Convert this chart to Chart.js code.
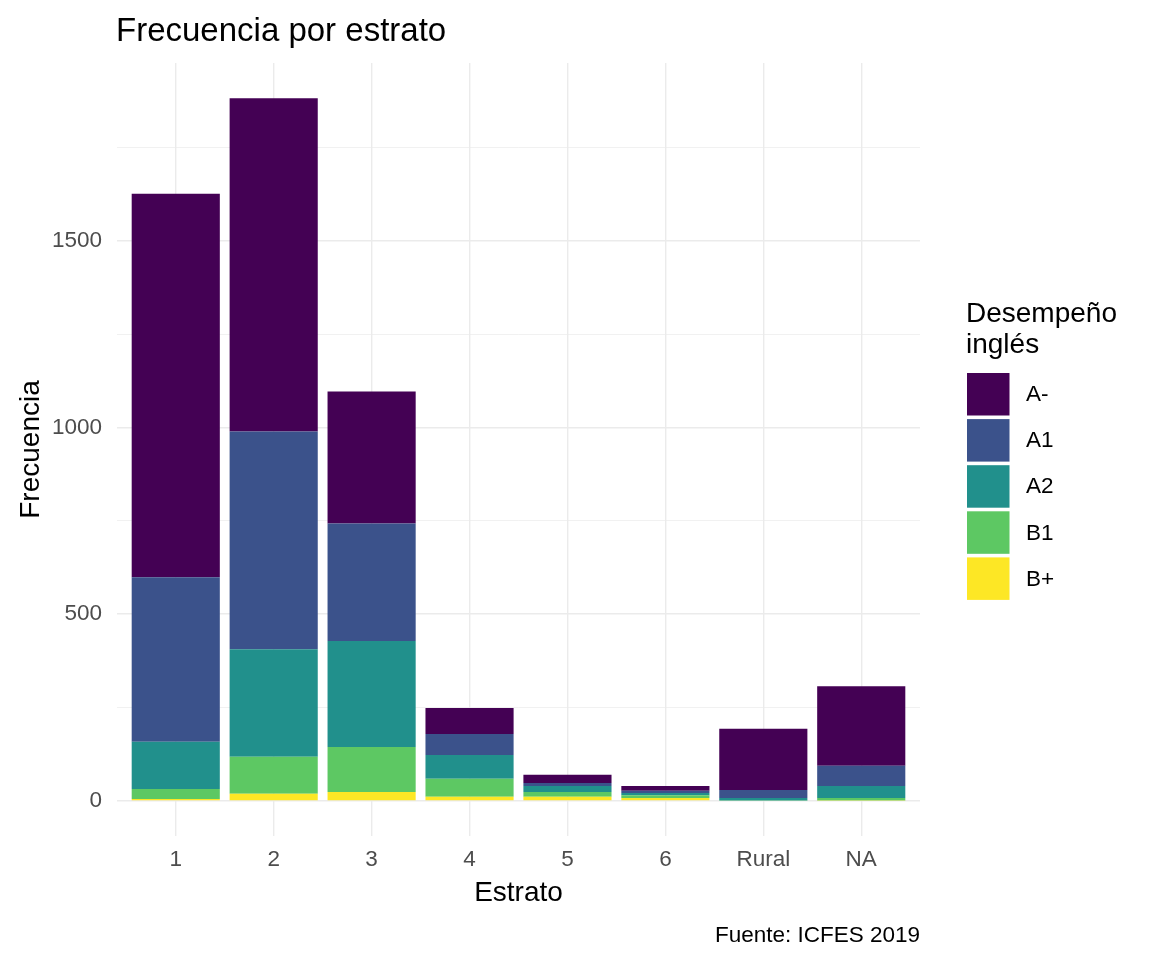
<!DOCTYPE html>
<html>
<head>
<meta charset="utf-8">
<script src="https://cdn.jsdelivr.net/npm/chart.js@4/dist/chart.umd.min.js"></script>
<style>
  html, body { margin: 0; padding: 0; background: #fff; }
  canvas { display: block; }
</style>
</head>
<body>
<canvas id="chart" width="1152" height="960"></canvas>
<script>
// ===== DATA =====
const estratos = ['1', '2', '3', '4', '5', '6', 'Rural', 'NA'];
const niveles = ['A-', 'A1', 'A2', 'B1', 'B+'];
const colores = ['#440154', '#3B528B', '#21908C', '#5DC863', '#FDE725'];

// counts per estrato, one array per level
const valoresAmenos = [1027, 893, 353, 70, 22, 13, 164, 213];
const valoresA1 = [441, 583, 315, 56, 8, 6, 21, 54];
const valoresA2 = [126, 288, 284, 64, 16, 6, 7, 32];
const valoresB1 = [27, 99, 120, 48, 13, 7, 1, 7];
const valoresBmas = [5, 19, 24, 11, 11, 8, 0, 1];

const yTicks = [0, 250, 500, 750, 1000, 1250, 1500, 1750];

const series = [valoresAmenos, valoresA1, valoresA2, valoresB1, valoresBmas];

// ggplot stacks the first level on top, so push datasets bottom-first
const datasets = niveles.map((nivel, i) => ({
    label: nivel,
    data: series[i].map((v, j) => ({ x: j + 1, y: v })),
    backgroundColor: colores[i],
    borderWidth: 0,
    categoryPercentage: 0.9,
    barPercentage: 1.0
})).reverse();

const FONT = '"Liberation Sans", Arial, sans-serif';

const textPlugin = {
    id: 'ggText',
    afterDraw(chart) {
        const ctx = chart.ctx;
        const area = chart.chartArea;
        ctx.save();
        ctx.fillStyle = '#000';
        ctx.textBaseline = 'alphabetic';

        // title
        ctx.font = '33px ' + FONT;
        ctx.textAlign = 'left';
        ctx.fillText('Frecuencia por estrato', 116, 41);

        // axis titles
        ctx.font = '28px ' + FONT;
        ctx.textAlign = 'center';
        ctx.fillText('Estrato', (area.left + area.right) / 2, 901);
        ctx.save();
        ctx.translate(39, (area.top + area.bottom) / 2);
        ctx.rotate(-Math.PI / 2);
        ctx.fillText('Frecuencia', 0, 0);
        ctx.restore();

        // caption
        ctx.font = '22.5px ' + FONT;
        ctx.textAlign = 'right';
        ctx.fillText('Fuente: ICFES 2019', area.right, 942);

        // legend
        ctx.textAlign = 'left';
        ctx.font = '28px ' + FONT;
        ctx.fillText('Desempeño', 966, 322);
        ctx.fillText('inglés', 966, 353);
        ctx.font = '22.5px ' + FONT;
        ctx.textBaseline = 'middle';
        niveles.forEach((nivel, i) => {
            const top = 373 + i * 46.1;
            ctx.fillStyle = colores[i];
            ctx.fillRect(967, top, 42.5, 42.5);
            ctx.fillStyle = '#000';
            ctx.fillText(nivel, 1026, top + 22);
        });
        ctx.restore();
    }
};

new Chart(document.getElementById('chart'), {
    type: 'bar',
    data: { datasets },
    options: {
        responsive: false,
        animation: false,
        layout: { padding: { top: 63, right: 232, left: 0, bottom: 0 } },
        plugins: {
            legend: { display: false },
            title: { display: false },
            tooltip: { enabled: false }
        },
        scales: {
            x: {
                type: 'linear',
                stacked: true,
                offset: false,
                min: 0.4,
                max: 8.6,
                afterBuildTicks: axis => {
                    axis.ticks = estratos.map((e, i) => ({ value: i + 1 }));
                },
                afterFit: axis => { axis.height = 124; },
                ticks: {
                    callback: v => estratos[v - 1],
                    color: '#4D4D4D',
                    font: { family: FONT, size: 22.5 },
                    padding: 10,
                    maxRotation: 0,
                    autoSkip: false
                },
                grid: { color: '#EBEBEB', lineWidth: 1.4, drawTicks: false, offset: false },
                border: { display: false }
            },
            y: {
                stacked: true,
                min: -94.1,
                max: 1976.1,
                afterBuildTicks: axis => {
                    axis.ticks = yTicks.map(v => ({ value: v }));
                },
                afterFit: axis => { axis.width = 117; },
                ticks: {
                    callback: v => (v % 500 === 0 ? String(v) : ''),
                    color: '#4D4D4D',
                    font: { family: FONT, size: 22.5 },
                    padding: 15,
                    autoSkip: false
                },
                grid: {
                    color: '#EBEBEB',
                    lineWidth: c => (c.tick && c.tick.value % 500 === 0 ? 1.4 : 0.7),
                    drawTicks: false
                },
                border: { display: false }
            }
        }
    },
    plugins: [textPlugin]
});
</script>
</body>
</html>
